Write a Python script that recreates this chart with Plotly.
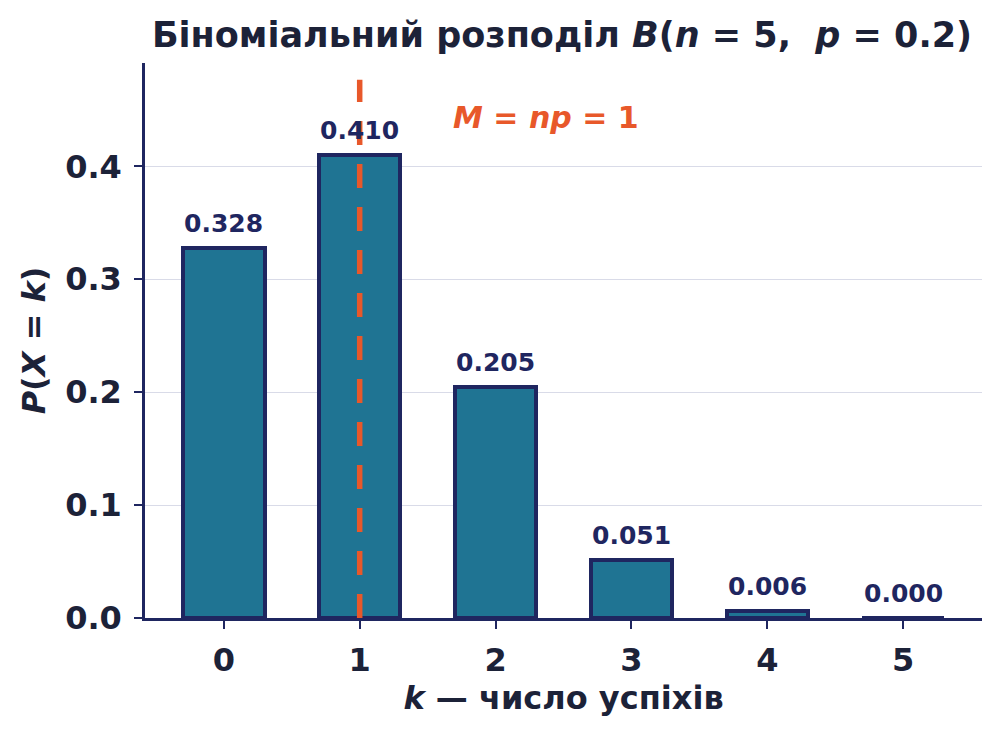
import plotly.graph_objects as go

# binomial B(n=5, p=0.2)
n = 5
p = 0.2
k_values = [0, 1, 2, 3, 4, 5]
probs = [0.328, 0.410, 0.205, 0.051, 0.006, 0.0003]
prob_labels = ['0.328', '0.410', '0.205', '0.051', '0.006', '0.000']
y_ticks = [0.0, 0.1, 0.2, 0.3, 0.4]

FONT = 'DejaVu Sans'
DARK = '#1c2238'
NAVY = '#1f2660'
BAR = '#1f7493'
ORANGE = '#e8582a'

mean = n * p

fig = go.Figure()
fig.add_trace(go.Bar(
    x=k_values,
    y=probs,
    width=0.6,
    marker=dict(color=BAR, line=dict(color=NAVY, width=4)),
    hoverinfo='skip',
))

annotations = []
for k, pr, lab in zip(k_values, probs, prob_labels):
    annotations.append(dict(
        x=k, y=pr, text=f'<b>{lab}</b>', showarrow=False,
        yanchor='bottom', yshift=8,
        font=dict(family=FONT, size=25, color=NAVY),
    ))

annotations.append(dict(
    x=mean + 0.67, y=0.443, xanchor='left', yanchor='middle',
    text='<b><i>M</i> = <i>np</i> = 1</b>', showarrow=False,
    font=dict(family=FONT, size=30, color=ORANGE),
))

fig.add_shape(
    type='line', xref='x', yref='y domain',
    x0=mean, x1=mean, y0=0, y1=0.97,
    line=dict(color=ORANGE, width=5.5, dash='24px,19px'),
    layer='above',
)

# the page body has an 8px margin, margins below make up for it
fig.update_layout(
    width=1000, height=736,
    paper_bgcolor='white', plot_bgcolor='white',
    margin=dict(l=137, r=26, t=55, b=126),
    showlegend=False,
    bargap=0,
    annotations=annotations,
    title=dict(
        text='<b>Біноміальний розподіл <i>B</i>(<i>n</i> = 5,  <i>p</i> = 0.2)</b>',
        x=0.554, xanchor='center', y=1 - 27 / 736, yanchor='middle',
        font=dict(family=FONT, size=35, color=DARK),
    ),
    xaxis=dict(
        range=[-0.58, 5.58],
        tickvals=k_values,
        ticktext=[f'<b>{k}</b>' for k in k_values],
        tickfont=dict(family=FONT, size=32, color=DARK),
        ticks='outside', ticklen=8, tickwidth=2, tickcolor=NAVY,
        showline=True, linecolor=NAVY, linewidth=2.5,
        showgrid=False, zeroline=False,
        ticklabelstandoff=4,
        title=dict(text='<b><i>k</i> — число успіхів</b>', standoff=8,
                   font=dict(family=FONT, size=32, color=DARK)),
    ),
    yaxis=dict(
        range=[0, 0.4915],
        tickvals=y_ticks,
        ticktext=[f'<b>{v:.1f}</b>' for v in y_ticks],
        tickfont=dict(family=FONT, size=32, color=DARK),
        ticks='outside', ticklen=8, tickwidth=2, tickcolor=NAVY,
        showline=True, linecolor=NAVY, linewidth=2.5,
        showgrid=True, gridcolor='#d9dbe8', gridwidth=1.2,
        zeroline=False,
        ticklabelstandoff=6,
        title=dict(text='<b><i>P</i>(<i>X</i> = <i>k</i>)</b>', standoff=10,
                   font=dict(family=FONT, size=32, color=DARK)),
    ),
)

fig.write_html('out.html')
